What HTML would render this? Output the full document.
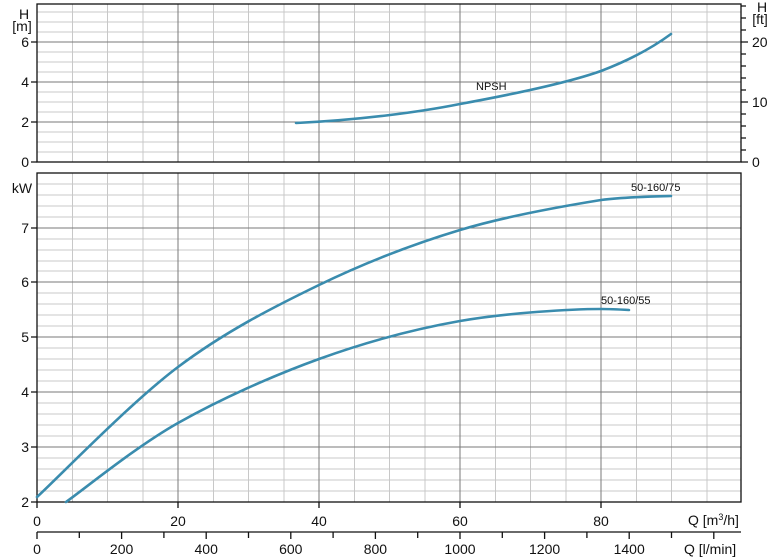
<!DOCTYPE html>
<html><head><meta charset="utf-8"><style>body{margin:0;background:#fff}svg{display:block}text{font-family:"Liberation Sans",sans-serif;fill:#111}</style></head><body>
<svg width="776" height="559" viewBox="0 0 776 559" xmlns="http://www.w3.org/2000/svg">
<g stroke="#c8c8c8" stroke-width="1">
<path d="M37 12H741M37 22H741M37 32H741M37 52H741M37 62H741M37 72H741M37 92H741M37 102H741M37 112H741M37 132H741M37 142H741M37 152H741"/>
<path d="M37 184H741M37 195H741M37 206H741M37 217H741M37 239H741M37 250H741M37 261H741M37 271H741M37 293H741M37 304H741M37 315H741M37 326H741M37 348H741M37 359H741M37 370H741M37 381H741M37 403H741M37 414H741M37 425H741M37 436H741M37 458H741M37 469H741M37 480H741M37 491H741"/>
<path d="M72.5 4V162M107.5 4V162M143 4V162M213.5 4V162M248.5 4V162M284 4V162M354.5 4V162M389.5 4V162M425 4V162M495.5 4V162M530.5 4V162M566 4V162M636.5 4V162M671.5 4V162M707 4V162"/>
<path d="M72.5 173V502M107.5 173V502M143 173V502M213.5 173V502M248.5 173V502M284 173V502M354.5 173V502M389.5 173V502M425 173V502M495.5 173V502M530.5 173V502M566 173V502M636.5 173V502M671.5 173V502M707 173V502"/>
</g>
<g stroke="#7a7a7a" stroke-width="1">
<path d="M37 42H741M37 82H741M37 122H741"/>
<path d="M37 228H741M37 282H741M37 337H741M37 392H741M37 447H741"/>
<path d="M178 4V162M319 4V162M460 4V162M601 4V162M178 173V502M319 173V502M460 173V502M601 173V502"/>
</g>
<g fill="none" stroke="#111" stroke-width="1.3">
<rect x="37" y="4" width="704" height="158"/>
<rect x="37" y="173" width="704" height="329"/>
<path d="M31 42H37M31 82H37M31 122H37M31 162H37M31 228H37M31 282H37M31 337H37M31 392H37M31 447H37M31 502H37"/>
<path d="M741 162H748M741 150H746M741 138H746M741 126H746M741 114H746M741 102H748M741 90H746M741 78H746M741 66H746M741 54H746M741 42H748M741 30H746M741 18H746M741 6H746"/>
<path d="M37 502V508M178 502V508M319 502V508M460 502V508M601 502V508"/>
<path d="M37 532H741"/>
<path d="M37 532V539M79.3 532V538M121.6 532V539M163.9 532V538M206.2 532V539M248.5 532V538M290.8 532V539M333.1 532V538M375.4 532V539M417.7 532V538M460 532V539M502.3 532V538M544.6 532V539M586.9 532V538M629.2 532V539M671.5 532V538M713.8 532V539"/>
</g>
<g fill="none" stroke="#3a8cae" stroke-width="2.6" stroke-linecap="round" stroke-linejoin="round">
<path d="M296 123C360 120 420 112 460 104C520 93 570 82 601 71C630 60 652 48 671 34"/>
<path d="M37 497C60.5 475.3 131 402.3 178 367C225 331.7 272 307.8 319 285C366 262.2 413 244.2 460 230C507 215.8 565.8 205.7 601 200C624 197 650 196.5 671 196"/>
<path d="M66 502C84.7 488.8 135.8 446.8 178 423C220.2 399.2 272 376 319 359C366 342 413 329.3 460 321C507 312.7 572.8 309 601 309C610 309 620 309.5 629 310"/>
</g>
<g font-size="14" text-anchor="end">
<text x="29" y="47">6</text><text x="29" y="87">4</text><text x="29" y="127">2</text><text x="29" y="167">0</text>
<text x="29" y="233">7</text><text x="29" y="287">6</text><text x="29" y="342">5</text><text x="29" y="397">4</text><text x="29" y="452">3</text><text x="29" y="507">2</text>
</g>
<text x="24" y="19" font-size="14" text-anchor="middle">H</text>
<text x="22" y="31" font-size="14" text-anchor="middle">[m]</text>
<text x="22" y="193" font-size="14" text-anchor="middle">kW</text>
<text x="762" y="12" font-size="14" text-anchor="middle">H</text>
<text x="760" y="24" font-size="14" text-anchor="middle">[ft]</text>
<g font-size="14">
<text x="752" y="47">20</text><text x="752" y="107">10</text><text x="752" y="167">0</text>
</g>
<g font-size="14" text-anchor="middle">
<text x="37" y="526">0</text><text x="178" y="526">20</text><text x="319" y="526">40</text><text x="460" y="526">60</text><text x="601" y="526">80</text>
<text x="37" y="554">0</text><text x="121.6" y="554">200</text><text x="206.2" y="554">400</text><text x="290.8" y="554">600</text><text x="375.4" y="554">800</text><text x="460" y="554">1000</text><text x="544.6" y="554">1200</text><text x="629.2" y="554">1400</text>
</g>
<text x="688" y="525" font-size="14">Q [m<tspan font-size="9" dy="-5">3</tspan><tspan dy="5">/h]</tspan></text>
<text x="684" y="554" font-size="14">Q [l/min]</text>
<g font-size="11">
<text x="476" y="90">NPSH</text>
<text x="631" y="191">50-160/75</text>
<text x="601" y="304">50-160/55</text>
</g>
</svg>
</body></html>
